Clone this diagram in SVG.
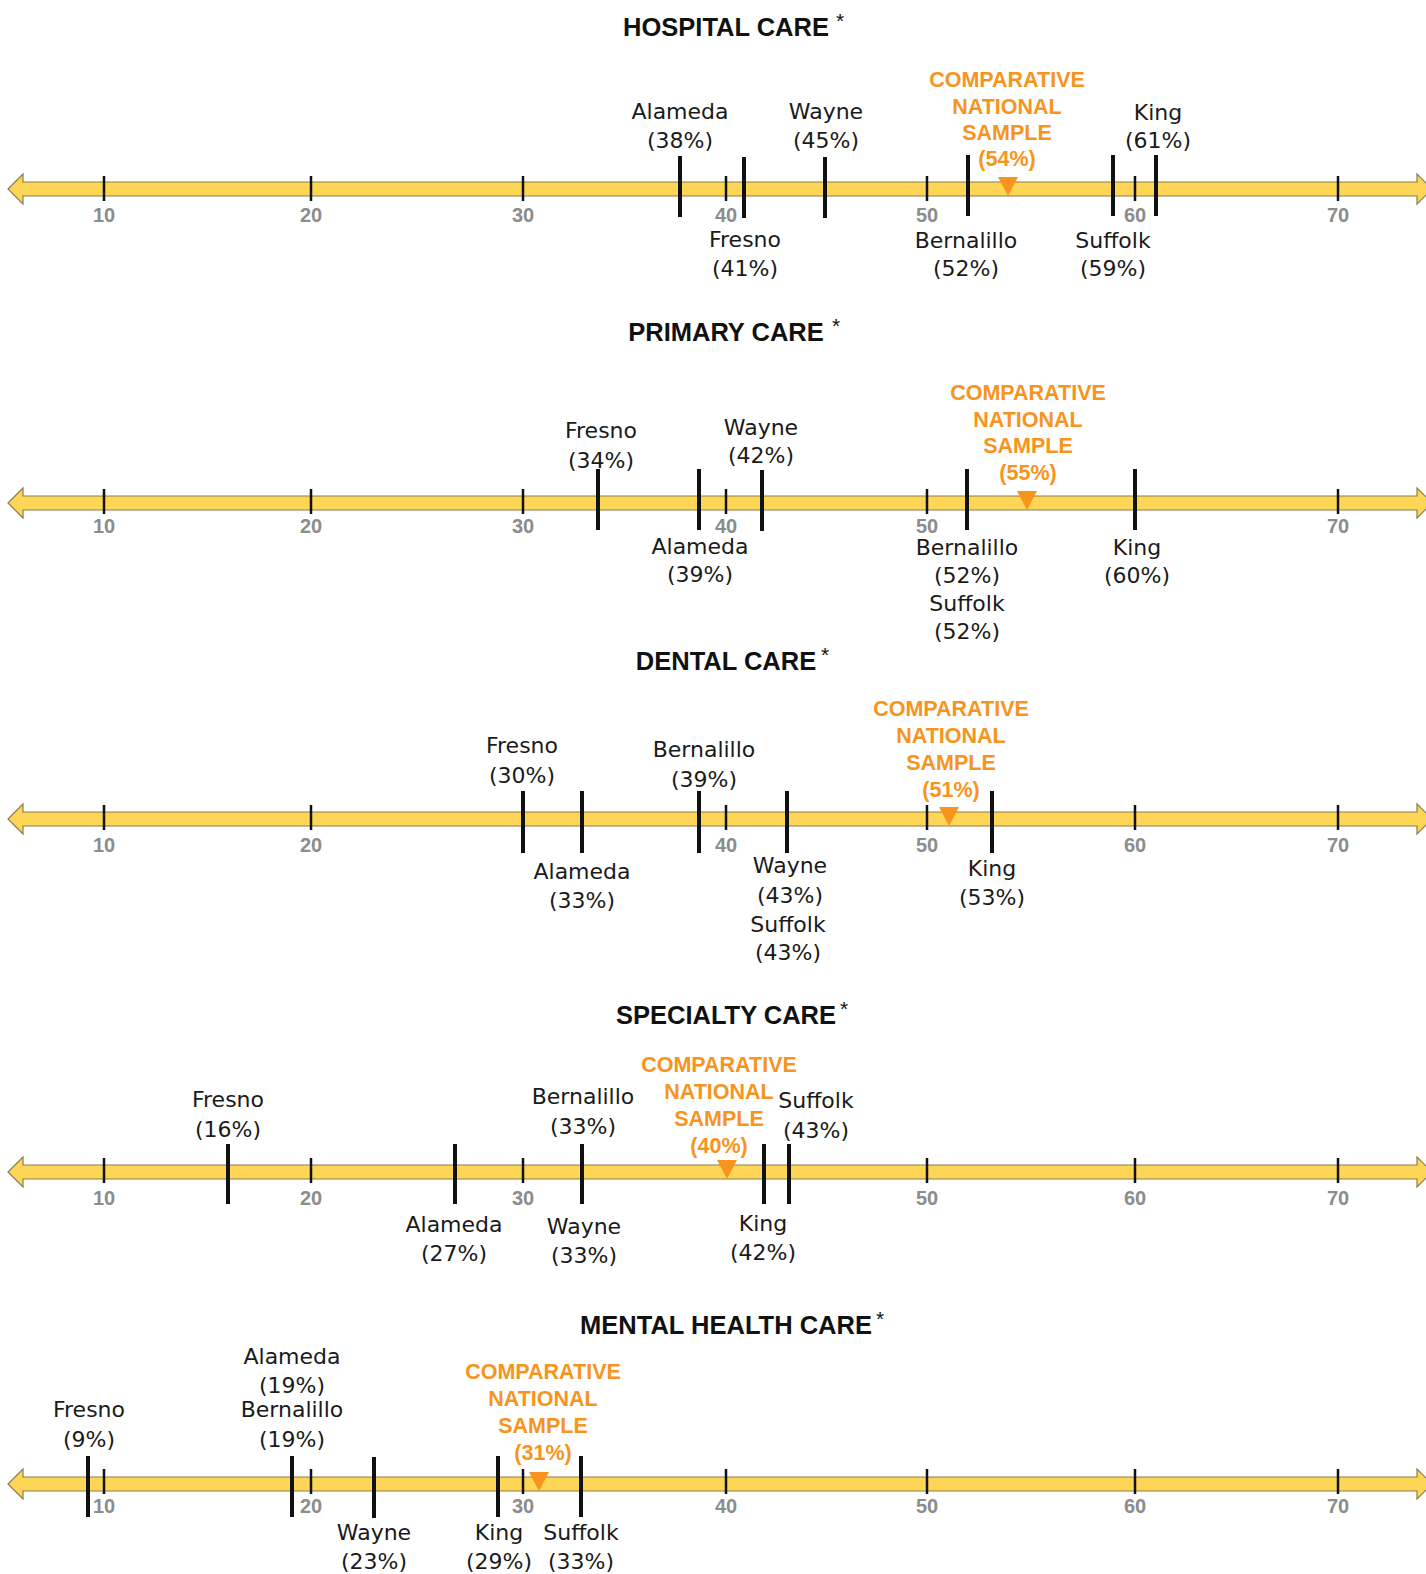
<svg xmlns="http://www.w3.org/2000/svg" xmlns:xlink="http://www.w3.org/1999/xlink" width="1426" height="1574" viewBox="0 0 1426 1574">
<style>
.title{font-family:"Liberation Sans",Arial,sans-serif;font-weight:bold;font-size:25.5px;fill:#111;text-anchor:middle}
.ast{font-family:"Liberation Sans",Arial,sans-serif;font-size:21px;fill:#111}
.lbl{font-family:"DejaVu Sans",sans-serif;font-size:22px;fill:#1a1a1a;text-anchor:middle}
.nat{font-family:"Liberation Sans",Arial,sans-serif;font-weight:bold;font-size:21.5px;fill:#F7941D;text-anchor:middle}
.tk{font-family:"Liberation Sans",Arial,sans-serif;font-weight:bold;font-size:20px;fill:#8C8C8C;text-anchor:middle}
.mk{stroke:#111;stroke-width:4}
.mn{stroke:#111;stroke-width:2.5}
.tri{fill:#F7941D}
.ax{fill:#FFD556;stroke:#8B7D4E;stroke-width:1.2}
</style>
<defs>
<path id="axis" class="ax" d="M8,0 L23,-15 L23,-7 L1417,-7 L1417,-15 L1432,0 L1417,15 L1417,7 L23,7 L23,15 Z"/>
<g id="minorA">
<line class="mn" x1="104" y1="-13" x2="104" y2="12"/>
<line class="mn" x1="311" y1="-13" x2="311" y2="12"/>
<line class="mn" x1="523" y1="-13" x2="523" y2="12"/>
</g>
<g id="minorB">
<line class="mn" x1="927" y1="-13" x2="927" y2="12"/>
<line class="mn" x1="1135" y1="-13" x2="1135" y2="12"/>
<line class="mn" x1="1338" y1="-13" x2="1338" y2="12"/>
</g>
<line id="minor40" class="mn" x1="726" y1="-13" x2="726" y2="12"/>
</defs>
<rect width="1426" height="1574" fill="#fff"/>

<!-- axes -->
<g id="axes">
<use xlink:href="#axis" y="189"/><use xlink:href="#minorA" y="189"/><use xlink:href="#minor40" y="189"/><use xlink:href="#minorB" y="189"/>
<use xlink:href="#axis" y="503"/><use xlink:href="#minorA" y="502"/><use xlink:href="#minor40" y="502"/><use xlink:href="#minorB" y="502"/>
<use xlink:href="#axis" y="819"/><use xlink:href="#minorA" y="818"/><use xlink:href="#minor40" y="818"/><use xlink:href="#minorB" y="818"/>
<use xlink:href="#axis" y="1172"/><use xlink:href="#minorA" y="1171"/><use xlink:href="#minorB" y="1171"/>
<use xlink:href="#axis" y="1484"/><use xlink:href="#minorA" y="1482"/><use xlink:href="#minor40" y="1482"/><use xlink:href="#minorB" y="1482"/>
</g>
<g id="connectors"/>

<!-- ================= HOSPITAL CARE ================= -->
<g id="hospital">
<text class="title" x="726" y="36">HOSPITAL CARE</text><text class="ast" x="836" y="28">*</text>
<g id="h-ticks">
<text class="tk" x="104" y="222">10</text><text class="tk" x="311" y="222">20</text><text class="tk" x="523" y="222">30</text><text class="tk" x="726" y="222">40</text><text class="tk" x="927" y="222">50</text><text class="tk" x="1135" y="222">60</text><text class="tk" x="1338" y="222">70</text>
</g>
<g id="h-alameda"><line class="mk" x1="680" y1="156" x2="680" y2="217"/><text class="lbl" x="680" y="119">Alameda</text><text class="lbl" x="680" y="148">(38%)</text></g>
<g id="h-fresno"><line class="mk" x1="744" y1="157" x2="744" y2="218"/><text class="lbl" x="745" y="247">Fresno</text><text class="lbl" x="745" y="276">(41%)</text></g>
<g id="h-wayne"><line class="mk" x1="825" y1="157" x2="825" y2="218"/><text class="lbl" x="826" y="119">Wayne</text><text class="lbl" x="826" y="148">(45%)</text></g>
<g id="h-bernalillo"><line class="mk" x1="968" y1="155" x2="968" y2="216"/><text class="lbl" x="966" y="248">Bernalillo</text><text class="lbl" x="966" y="276">(52%)</text></g>
<g id="h-national"><path class="tri" d="M998,177 L1018,177 L1008,196 Z"/><text class="nat" x="1007" y="87">COMPARATIVE</text><text class="nat" x="1007" y="114">NATIONAL</text><text class="nat" x="1007" y="140">SAMPLE</text><text class="nat" x="1007" y="166">(54%)</text></g>
<g id="h-suffolk"><line class="mk" x1="1113" y1="155" x2="1113" y2="216"/><text class="lbl" x="1113" y="248">Suffolk</text><text class="lbl" x="1113" y="276">(59%)</text></g>
<g id="h-king"><line class="mk" x1="1156" y1="155" x2="1156" y2="216"/><text class="lbl" x="1158" y="120">King</text><text class="lbl" x="1158" y="148">(61%)</text></g>
</g>

<!-- ================= PRIMARY CARE ================= -->
<g id="primary">
<text class="title" x="726" y="341">PRIMARY CARE</text><text class="ast" x="832" y="333">*</text>
<g id="p-ticks">
<text class="tk" x="104" y="533">10</text><text class="tk" x="311" y="533">20</text><text class="tk" x="523" y="533">30</text><text class="tk" x="726" y="533">40</text><text class="tk" x="927" y="533">50</text><text class="tk" x="1338" y="533">70</text>
</g>
<g id="p-fresno"><line class="mk" x1="598" y1="469" x2="598" y2="530"/><text class="lbl" x="601" y="438">Fresno</text><text class="lbl" x="601" y="468">(34%)</text></g>
<g id="p-alameda"><line class="mk" x1="699" y1="469" x2="699" y2="530"/><text class="lbl" x="700" y="554">Alameda</text><text class="lbl" x="700" y="582">(39%)</text></g>
<g id="p-wayne"><line class="mk" x1="762" y1="470" x2="762" y2="531"/><text class="lbl" x="761" y="435">Wayne</text><text class="lbl" x="761" y="463">(42%)</text></g>
<g id="p-bernalillo"><line class="mk" x1="967" y1="469" x2="967" y2="530"/><text class="lbl" x="967" y="555">Bernalillo</text><text class="lbl" x="967" y="583">(52%)</text></g>
<g id="p-suffolk"><text class="lbl" x="967" y="611">Suffolk</text><text class="lbl" x="967" y="639">(52%)</text></g>
<g id="p-national"><path class="tri" d="M1017,491 L1037,491 L1027,510 Z"/><text class="nat" x="1028" y="400">COMPARATIVE</text><text class="nat" x="1028" y="427">NATIONAL</text><text class="nat" x="1028" y="453">SAMPLE</text><text class="nat" x="1028" y="480">(55%)</text></g>
<g id="p-king"><line class="mk" x1="1135" y1="469" x2="1135" y2="530"/><text class="lbl" x="1137" y="555">King</text><text class="lbl" x="1137" y="583">(60%)</text></g>
</g>

<!-- ================= DENTAL CARE ================= -->
<g id="dental">
<text class="title" x="726" y="670">DENTAL CARE</text><text class="ast" x="821" y="662">*</text>
<g id="d-ticks">
<text class="tk" x="104" y="852">10</text><text class="tk" x="311" y="852">20</text><text class="tk" x="726" y="852">40</text><text class="tk" x="927" y="852">50</text><text class="tk" x="1135" y="852">60</text><text class="tk" x="1338" y="852">70</text>
</g>
<g id="d-fresno"><line class="mk" x1="523" y1="791" x2="523" y2="853"/><text class="lbl" x="522" y="753">Fresno</text><text class="lbl" x="522" y="783">(30%)</text></g>
<g id="d-alameda"><line class="mk" x1="582" y1="791" x2="582" y2="853"/><text class="lbl" x="582" y="879">Alameda</text><text class="lbl" x="582" y="908">(33%)</text></g>
<g id="d-bernalillo"><line class="mk" x1="699" y1="791" x2="699" y2="853"/><text class="lbl" x="704" y="757">Bernalillo</text><text class="lbl" x="704" y="787">(39%)</text></g>
<g id="d-wayne"><line class="mk" x1="787" y1="791" x2="787" y2="853"/><text class="lbl" x="790" y="873">Wayne</text><text class="lbl" x="790" y="903">(43%)</text></g>
<g id="d-suffolk"><text class="lbl" x="788" y="932">Suffolk</text><text class="lbl" x="788" y="960">(43%)</text></g>
<g id="d-national"><path class="tri" d="M939,807 L959,807 L949,826 Z"/><text class="nat" x="951" y="716">COMPARATIVE</text><text class="nat" x="951" y="743">NATIONAL</text><text class="nat" x="951" y="770">SAMPLE</text><text class="nat" x="951" y="797">(51%)</text></g>
<g id="d-king"><line class="mk" x1="992" y1="791" x2="992" y2="853"/><text class="lbl" x="992" y="876">King</text><text class="lbl" x="992" y="905">(53%)</text></g>
</g>

<!-- ================= SPECIALTY CARE ================= -->
<g id="specialty">
<text class="title" x="726" y="1024">SPECIALTY CARE</text><text class="ast" x="840" y="1016">*</text>
<g id="s-ticks">
<text class="tk" x="104" y="1205">10</text><text class="tk" x="311" y="1205">20</text><text class="tk" x="523" y="1205">30</text><text class="tk" x="927" y="1205">50</text><text class="tk" x="1135" y="1205">60</text><text class="tk" x="1338" y="1205">70</text>
</g>
<g id="s-fresno"><line class="mk" x1="228" y1="1144" x2="228" y2="1204"/><text class="lbl" x="228" y="1107">Fresno</text><text class="lbl" x="228" y="1137">(16%)</text></g>
<g id="s-alameda"><line class="mk" x1="455" y1="1144" x2="455" y2="1204"/><text class="lbl" x="454" y="1232">Alameda</text><text class="lbl" x="454" y="1261">(27%)</text></g>
<g id="s-bernalillo"><line class="mk" x1="582" y1="1144" x2="582" y2="1204"/><text class="lbl" x="583" y="1104">Bernalillo</text><text class="lbl" x="583" y="1134">(33%)</text></g>
<g id="s-wayne"><text class="lbl" x="584" y="1234">Wayne</text><text class="lbl" x="584" y="1263">(33%)</text></g>
<g id="s-national"><path class="tri" d="M717,1160 L737,1160 L727,1179 Z"/><text class="nat" x="719" y="1072">COMPARATIVE</text><text class="nat" x="719" y="1099">NATIONAL</text><text class="nat" x="719" y="1126">SAMPLE</text><text class="nat" x="719" y="1153">(40%)</text></g>
<g id="s-king"><line class="mk" x1="764" y1="1144" x2="764" y2="1204"/><text class="lbl" x="763" y="1231">King</text><text class="lbl" x="763" y="1260">(42%)</text></g>
<g id="s-suffolk"><line class="mk" x1="789" y1="1144" x2="789" y2="1204"/><text class="lbl" x="816" y="1108">Suffolk</text><text class="lbl" x="816" y="1138">(43%)</text></g>
</g>

<!-- ================= MENTAL HEALTH CARE ================= -->
<g id="mental">
<text class="title" x="726" y="1334">MENTAL HEALTH CARE</text><text class="ast" x="876" y="1326">*</text>
<g id="m-ticks">
<text class="tk" x="104" y="1513">10</text><text class="tk" x="311" y="1513">20</text><text class="tk" x="523" y="1513">30</text><text class="tk" x="726" y="1513">40</text><text class="tk" x="927" y="1513">50</text><text class="tk" x="1135" y="1513">60</text><text class="tk" x="1338" y="1513">70</text>
</g>
<g id="m-fresno"><line class="mk" x1="88" y1="1456" x2="88" y2="1517"/><text class="lbl" x="89" y="1417">Fresno</text><text class="lbl" x="89" y="1447">(9%)</text></g>
<g id="m-alameda"><line class="mk" x1="292" y1="1456" x2="292" y2="1517"/><text class="lbl" x="292" y="1364">Alameda</text><text class="lbl" x="292" y="1393">(19%)</text></g>
<g id="m-bernalillo"><text class="lbl" x="292" y="1417">Bernalillo</text><text class="lbl" x="292" y="1447">(19%)</text></g>
<g id="m-wayne"><line class="mk" x1="374" y1="1457" x2="374" y2="1518"/><text class="lbl" x="374" y="1540">Wayne</text><text class="lbl" x="374" y="1569">(23%)</text></g>
<g id="m-king"><line class="mk" x1="498" y1="1456" x2="498" y2="1517"/><text class="lbl" x="499" y="1540">King</text><text class="lbl" x="499" y="1569">(29%)</text></g>
<g id="m-national"><path class="tri" d="M529,1472 L549,1472 L539,1491 Z"/><text class="nat" x="543" y="1379">COMPARATIVE</text><text class="nat" x="543" y="1406">NATIONAL</text><text class="nat" x="543" y="1433">SAMPLE</text><text class="nat" x="543" y="1460">(31%)</text></g>
<g id="m-suffolk"><line class="mk" x1="581" y1="1456" x2="581" y2="1517"/><text class="lbl" x="581" y="1540">Suffolk</text><text class="lbl" x="581" y="1569">(33%)</text></g>
</g>
</svg>
